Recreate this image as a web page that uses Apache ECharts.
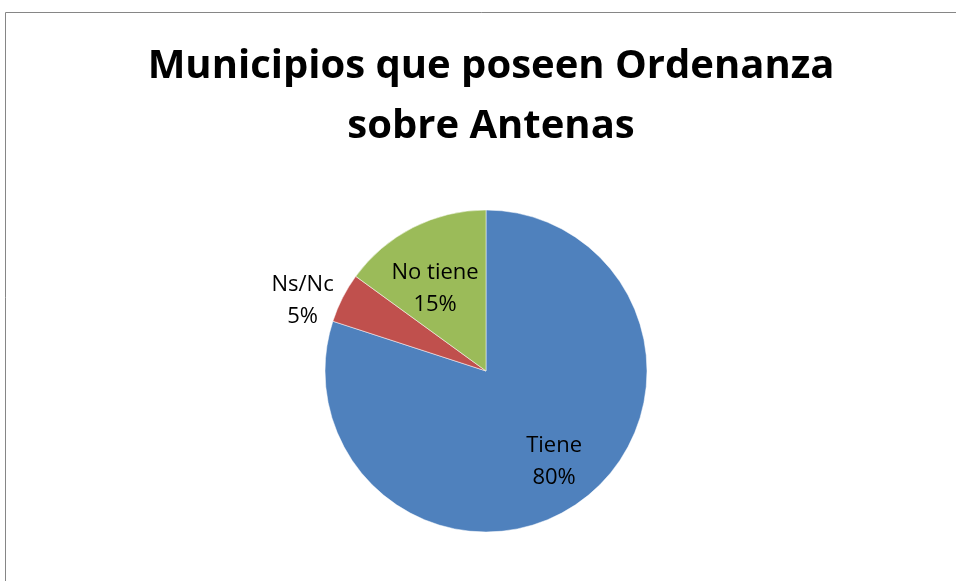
<!DOCTYPE html>
<html>
<head>
<meta charset="utf-8">
<script src="https://cdn.jsdelivr.net/npm/echarts@6/dist/echarts.min.js"></script>
<style>
  html, body { margin: 0; padding: 0; background: #fff; }
  #main { width: 956px; height: 581px; }
</style>
</head>
<body>
<div id="main"></div>
<script>
// datos del gráfico
var categorias = ['Tiene', 'Ns/Nc', 'No tiene'];
var valores = [80, 5, 15];
var colores = ['#4F81BD', '#C0504D', '#9BBB59'];
// desplazamiento de cada etiqueta respecto a la posición "inside"
var desplazamientos = [[19, 23], [-109, -32], [-13, -8]];

var chart = echarts.init(document.getElementById('main'));

var option = {
  animation: false,
  title: {
    text: 'Municipios que poseen Ordenanza\nsobre Antenas',
    left: 486,
    textAlign: 'center',
    top: 32,
    textStyle: {
      fontFamily: 'Open Sans',
      fontWeight: 'bold',
      fontSize: 40,
      lineHeight: 60,
      color: '#000'
    }
  },
  graphic: [{
    type: 'rect',
    shape: { x: 5.5, y: 12.5, width: 1000, height: 1000 },
    style: { fill: 'none', stroke: '#868686', lineWidth: 1 },
    silent: true
  }],
  series: [{
    type: 'pie',
    center: [486, 371],
    radius: 161,
    startAngle: 90,
    clockwise: true,
    itemStyle: { borderColor: '#fff', borderWidth: 0.5 },
    label: {
      show: true,
      position: 'inside',
      fontFamily: 'Open Sans',
      fontSize: 22,
      lineHeight: 32,
      color: '#000',
      formatter: function (p) { return p.name + '\n' + p.value + '%'; }
    },
    labelLine: { show: false },
    labelLayout: function (p) {
      var d = desplazamientos[p.dataIndex];
      return { dx: d[0], dy: d[1] };
    },
    data: categorias.map(function (c, i) {
      return { name: c, value: valores[i], itemStyle: { color: colores[i] } };
    })
  }]
};

chart.setOption(option);
</script>
</body>
</html>
